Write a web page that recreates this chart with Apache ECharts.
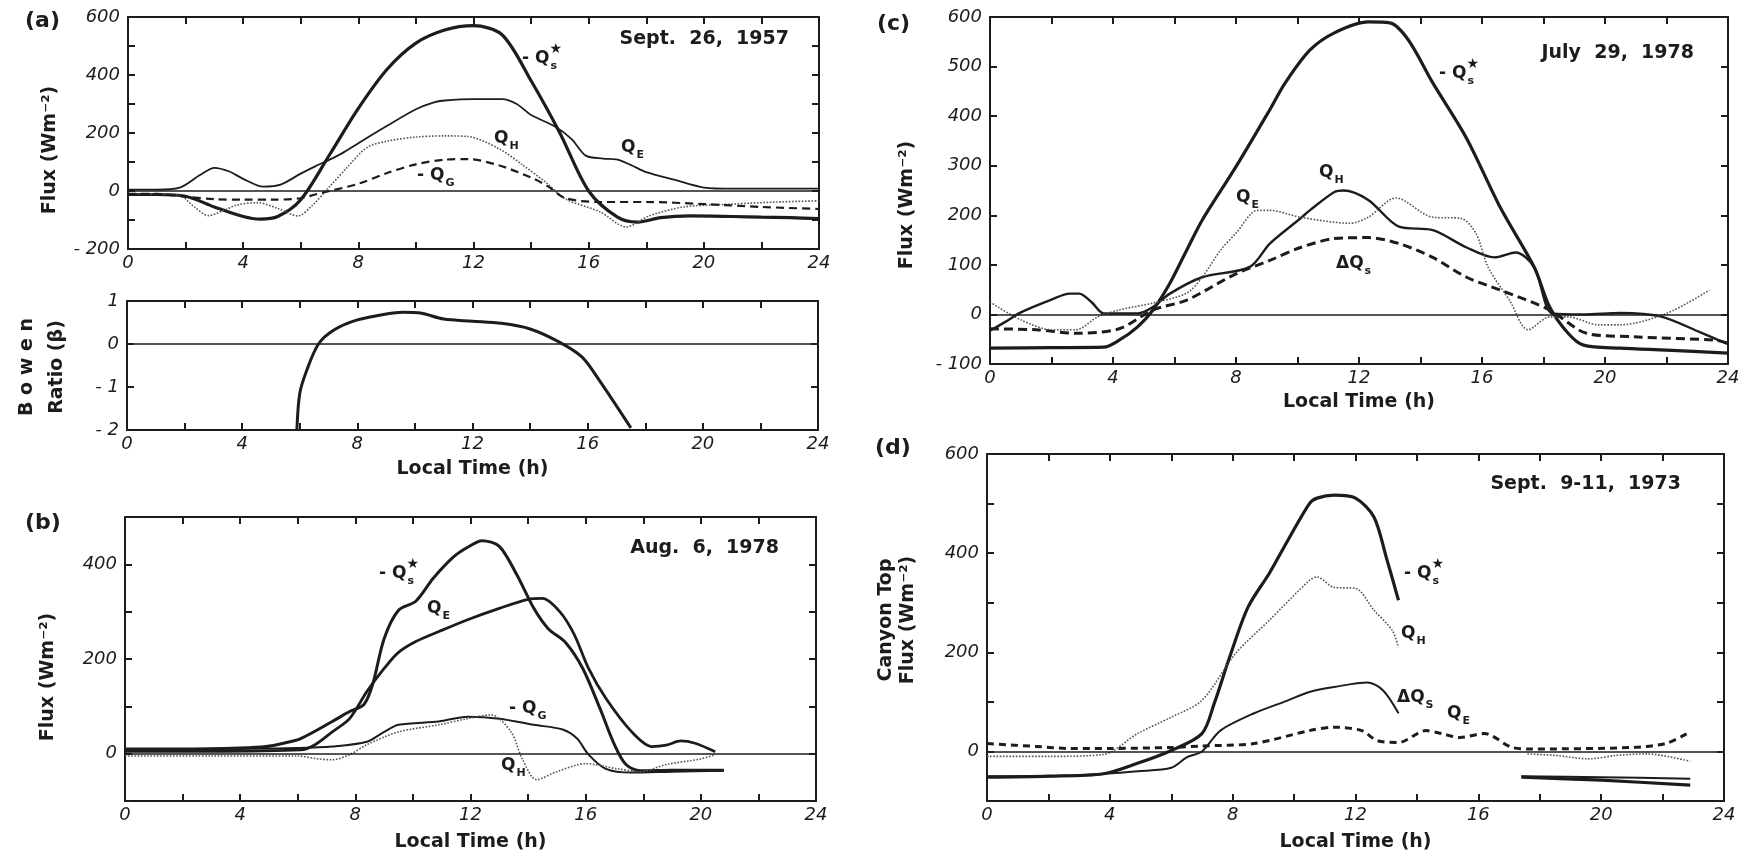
<!DOCTYPE html>
<html>
<head>
<meta charset="utf-8">
<script src="https://cdn.jsdelivr.net/npm/echarts@6/dist/echarts.min.js"></script>
<style>
  html, body { margin: 0; padding: 0; background: #fff; }
  #chart { width: 1747px; height: 859px; }
</style>
</head>
<body>
<div id="chart"></div>
<script>
// ---- data: [local time (h), value] ----
// (a) Sept. 26, 1957
const aQstar = [[0,-12],[1,-12],[2,-18],[3,-55],[4,-88],[4.6,-97],[5.2,-88],[6,-30],[7,125],[8,285],[9,420],[10,510],[11,555],[12,570],[13,538],[14,380],[15,200],[16,0],[17,-90],[17.7,-107],[18.5,-92],[19.5,-86],[21,-88],[22,-90],[23,-92],[24,-95]];
const aQE = [[0,5],[1,5],[1.8,12],[2.5,55],[3,80],[3.5,68],[4,42],[4.7,15],[5.3,22],[6,60],[6.5,85],[7,108],[7.5,134],[8,165],[9,225],[10,282],[10.6,305],[11,312],[12,317],[13,317],[13.5,300],[14,262],[14.8,224],[15.4,180],[15.9,122],[16.5,112],[17,108],[17.5,88],[18,65],[19,38],[20,12],[21,8],[22,8],[23,8],[24,8]];
const aQH = [[0,-10],[1,-10],[1.8,-15],[2.3,-55],[2.8,-85],[3.3,-68],[3.8,-48],[4.5,-40],[5.2,-60],[5.9,-86],[6.4,-50],[7,15],[7.6,80],[8.3,150],[9,172],[10,186],[11,190],[11.8,188],[12.9,145],[13.7,90],[14.5,31],[15.2,-28],[16.4,-72],[17.3,-124],[18.1,-86],[19.3,-55],[21,-45],[22.5,-38],[24,-34]];
const aQG = [[0,-10],[1,-10],[2,-20],[3,-28],[4,-30],[5,-30],[6,-25],[6.5,-12],[7,0],[8,25],[9,62],[10,92],[11,108],[11.8,110],[12.9,88],[14.1,42],[14.6,15],[15.2,-25],[16.4,-38],[18,-38],[20,-45],[22,-55],[24,-62]];
const aBowen = [[5.9,-2],[6,-1.15],[6.25,-0.6],[6.65,0],[7.2,0.33],[8,0.56],[9,0.7],[9.6,0.74],[10.2,0.72],[11,0.58],[12,0.53],[13,0.48],[14,0.35],[15,0.05],[15.8,-0.3],[16.4,-0.84],[17.5,-1.95]];
// (b) Aug. 6, 1978
const bQstar = [[0,10],[2,10],[4,12],[4.9,15],[5.5,22],[6.1,32],[7.2,68],[7.8,89],[8.3,104],[8.6,146],[9,243],[9.5,303],[10.1,322],[10.7,370],[11.4,415],[11.9,436],[12.4,450],[13,438],[13.6,379],[14.2,307],[14.7,264],[15.3,235],[15.9,180],[16.5,95],[17,19],[17.4,-23],[17.9,-36],[19,-35],[20.8,-35]];
const bQE = [[0,5],[3,5],[6.1,8],[6.6,19],[7.2,46],[7.8,74],[8.4,131],[9,180],[9.5,214],[10.1,237],[10.9,258],[11.9,283],[13,307],[14,326],[14.5,328],[15.1,300],[15.6,252],[16.1,180],[16.7,117],[17.6,46],[18.3,15],[18.8,18],[19.3,27],[19.8,22],[20.5,4]];
const bQG = [[0,10],[3,10],[6,12],[7.2,15],[8.4,25],[9,46],[9.5,61],[10.9,68],[11.9,78],[13,74],[14.2,61],[15.2,51],[15.7,32],[16.1,-2],[16.7,-32],[17.6,-40],[19,-38],[20.8,-36]];
const bQH = [[0,-5],[3,-5],[6,-5],[6.7,-11],[7.2,-13],[7.8,-2],[8.4,19],[9.5,46],[10.9,61],[11.9,74],[12.7,82],[13.4,47],[13.8,-11],[14.3,-55],[15,-38],[16,-21],[17.1,-32],[17.9,-38],[18.8,-23],[20,-11],[20.5,-2]];
// (c) July 29, 1978
const cQstar = [[0,-68],[2,-67],[3.7,-66],[4.2,-52],[4.8,-25],[5.3,9],[5.85,63],[6.4,130],[6.9,190],[8,298],[9.1,413],[9.6,467],[10.4,533],[11.2,568],[12.3,590],[13,588],[13.6,554],[14.4,467],[15.5,355],[16.6,215],[17.7,95],[18.2,15],[18.8,-38],[19.3,-62],[20.5,-68],[22,-72],[24,-78]];
const cQH = [[0,-33],[0.5,-15],[1,4],[2,30],[2.6,42],[2.9,42],[3.3,25],[3.7,2],[4.8,2],[5.3,15],[5.85,42],[6.9,75],[8.45,96],[9.1,143],[10.1,194],[10.4,210],[11.2,247],[11.5,250],[12.3,231],[13.3,177],[14.4,170],[15.5,135],[16.4,115],[17.1,125],[17.7,95],[18.3,2],[19.3,0],[20.5,3],[21.8,-4],[23.1,-36],[24,-60]];
const cQE = [[0,25],[1,-11],[2,-31],[2.8,-31],[3.5,-5],[4.2,9],[5.3,23],[6.4,43],[6.9,75],[7.5,130],[8,164],[8.7,210],[9.1,210],[10.1,196],[11.7,184],[12.3,196],[13.2,235],[14.4,196],[15.3,194],[15.8,164],[16.2,95],[16.9,28],[17.5,-31],[18.2,-5],[18.8,-5],[19.8,-21],[20.5,-21],[22,2],[23.4,49]];
const cDQs = [[0,-29],[1.5,-31],[2.8,-38],[4.2,-29],[5.3,9],[6.4,29],[8,82],[9.1,109],[10.1,135],[11.2,153],[12.3,155],[13.3,143],[14.4,115],[15.5,75],[16.6,49],[18.2,9],[19.4,-38],[20.9,-45],[23.6,-52],[24,-58]];
// (d) Sept. 9-11, 1973 (gap in the record between 13.4 h and 17.4 h)
const dQstar = [[0,-52],[2,-50],[3.8,-45],[4.9,-24],[6,2],[7,36],[7.4,97],[7.9,190],[8.5,291],[9.2,360],[9.8,426],[10.5,500],[10.75,511],[11.3,517],[12,511],[12.6,473],[13,392],[13.4,305],[15.5,'-'],[17.4,-52],[20,-58],[22.9,-68]];
const dQH = [[0,-10],[2,-10],[3.8,-6],[4.9,36],[6,69],[7,103],[8.1,198],[9.2,265],[10.5,345],[10.75,352],[11.3,331],[12,329],[12.6,285],[13.2,244],[13.4,210],[15.5,'-'],[17.6,-5],[18.5,-8],[19.6,-15],[20.5,-8],[21.5,-5],[22.9,-20]];
const dDQs = [[0,-50],[2,-50],[3.8,-45],[4.9,-40],[6,-33],[6.5,-12],[7,0],[7.6,42],[8.7,77],[9.8,103],[10.5,120],[11.3,130],[12.4,139],[12.9,123],[13.4,77],[15.5,'-'],[17.4,-50],[20,-52],[22.9,-55]];
const dQE = [[0,16],[1.6,10],[2.7,6],[4,6],[6,8],[7,11],[8.7,16],[10.5,42],[11.3,49],[12.2,42],[12.7,22],[13.4,18],[14.3,42],[14.8,36],[15.4,28],[16.2,36],[17.1,8],[17.7,5],[21,8],[22.1,16],[22.8,36]];

// y ranges: [min, max, tick step, label step]
const yRanges = [[-200, 600, 100, 200], [-2, 1, 1, 1], [-100, 500, 100, 200], [-100, 600, 100, 100], [-100, 600, 100, 200]];
const dates = ['Sept.  26,  1957', 'Aug.  6,  1978', 'July  29,  1978', 'Sept.  9-11,  1973'];

const INK = '#1c1c1c';
const FONT = '"DejaVu Sans", sans-serif';

const chart = echarts.init(document.getElementById('chart'));

// grids: (a) flux, (a) Bowen ratio, (b), (c), (d)
const grids = [
  { left: 128, top: 17, width: 691, height: 232 },
  { left: 127, top: 301, width: 691, height: 129 },
  { left: 125, top: 517, width: 691, height: 284 },
  { left: 990, top: 17, width: 738, height: 347 },
  { left: 987, top: 454, width: 737, height: 347 }
];
const xNameGap = [0, 30, 32, 29, 32];

const neg = v => (v < 0 ? '- ' + (-v) : '' + v);

const xAxis = [];
const yAxis = [];
grids.forEach((g, i) => {
  const [mn, mx, step, lab] = yRanges[i];
  const line = { show: true, onZero: false, lineStyle: { color: INK, width: 2 } };
  const tick = { show: true, inside: true, length: 7, lineStyle: { color: INK, width: 2 } };
  xAxis.push({
    type: 'value', gridIndex: i, min: 0, max: 24, interval: 2, position: 'bottom',
    axisLine: line, axisTick: tick, splitLine: { show: false },
    axisLabel: {
      formatter: v => (v % 4 === 0 ? '' + v : ''),
      fontFamily: FONT, fontStyle: 'italic', fontSize: 18, color: INK, margin: 5
    },
    name: i === 0 ? '' : 'Local Time (h)', nameLocation: 'middle', nameGap: xNameGap[i],
    nameTextStyle: { fontFamily: FONT, fontWeight: 'bold', fontSize: 19, color: INK }
  });
  xAxis.push({
    type: 'value', gridIndex: i, min: 0, max: 24, interval: 2, position: 'top',
    axisLine: line, axisTick: tick, axisLabel: { show: false }, splitLine: { show: false }
  });
  yAxis.push({
    type: 'value', gridIndex: i, min: mn, max: mx, interval: step, position: 'left',
    axisLine: line, axisTick: tick, splitLine: { show: false },
    axisLabel: {
      formatter: v => (Math.round(v) % lab === 0 ? neg(v) : ''),
      fontFamily: FONT, fontStyle: 'italic', fontSize: 18, color: INK, margin: 8
    }
  });
  yAxis.push({
    type: 'value', gridIndex: i, min: mn, max: mx, interval: step, position: 'right',
    axisLine: line, axisTick: tick, axisLabel: { show: false }, splitLine: { show: false }
  });
});

function ser(g, data, width, type, color, zero) {
  const s = {
    type: 'line', xAxisIndex: 2 * g, yAxisIndex: 2 * g, data: data,
    symbol: 'none', showSymbol: false, smooth: 0.3,
    lineStyle: { color: color || INK, width: width, type: type || 'solid' },
    silent: true
  };
  if (zero) {
    s.markLine = {
      silent: true, symbol: 'none', label: { show: false },
      lineStyle: { color: INK, width: 1.6, type: 'solid' },
      data: [{ yAxis: 0 }]
    };
  }
  return s;
}

const series = [
  ser(0, aQstar, 3.2, 'solid', INK, true),
  ser(0, aQE, 1.8),
  ser(0, aQH, 1.6, 'dotted', '#555'),
  ser(0, aQG, 2.2, [8, 5]),
  ser(1, aBowen, 3, 'solid', INK, true),
  ser(2, bQstar, 3, 'solid', INK, true),
  ser(2, bQE, 2.8),
  ser(2, bQG, 2),
  ser(2, bQH, 1.6, 'dotted', '#555'),
  ser(3, cQstar, 3.2, 'solid', INK, true),
  ser(3, cQH, 2.4),
  ser(3, cQE, 1.6, 'dotted', '#555'),
  ser(3, cDQs, 3, [9, 5]),
  ser(4, dQstar, 3.2, 'solid', INK, true),
  ser(4, dQH, 1.6, 'dotted', '#555'),
  ser(4, dDQs, 2),
  ser(4, dQE, 3, [7, 5])
];

// ---- annotations ----
const ctx = document.createElement('canvas').getContext('2d');
function textW(s, font) { ctx.font = font; return ctx.measureText(s).width; }
const TAGF = 'bold 17px ' + FONT;

function tag(x, y, base, sub, star) {
  const w = textW(base, TAGF);
  const kids = [
    { type: 'text', x: 0, y: 0, style: { text: base, font: TAGF, fill: INK, verticalAlign: 'top' } },
    { type: 'text', x: w + 1, y: 11, style: { text: sub, font: 'bold 11px ' + FONT, fill: INK, verticalAlign: 'top' } }
  ];
  if (star) {
    kids.push({ type: 'text', x: w, y: -8, style: { text: '★', font: '14px ' + FONT, fill: INK, verticalAlign: 'top' } });
  }
  return { type: 'group', x: x, y: y, children: kids };
}
function txt(x, y, s, font, align) {
  return { type: 'text', x: x, y: y, style: { text: s, font: font, fill: INK, align: align || 'left', verticalAlign: 'top' } };
}
function vtxt(x, y, s) {
  return {
    type: 'text', x: x, y: y, rotation: Math.PI / 2,
    style: { text: s, font: 'bold 19px ' + FONT, fill: INK, align: 'center', verticalAlign: 'middle' }
  };
}

const PANEL = 'bold 22px ' + FONT;
const DATE = 'bold 19px ' + FONT;
const graphic = [
  txt(25, 10, '(a)', PANEL), txt(25, 512, '(b)', PANEL),
  txt(877, 13, '(c)', PANEL), txt(875, 437, '(d)', PANEL),
  txt(789, 30, dates[0], DATE, 'right'), txt(779, 539, dates[1], DATE, 'right'),
  txt(1694, 44, dates[2], DATE, 'right'), txt(1681, 475, dates[3], DATE, 'right'),
  vtxt(50, 150, 'Flux (Wm⁻²)'),
  vtxt(27, 367, 'B o w e n'), vtxt(57, 367, 'Ratio (β)'),
  vtxt(48, 677, 'Flux (Wm⁻²)'),
  vtxt(907, 205, 'Flux (Wm⁻²)'),
  vtxt(886, 620, 'Canyon Top'), vtxt(908, 620, 'Flux (Wm⁻²)'),
  // (a)
  tag(522, 50, '- Q', 's', true), tag(494, 130, 'Q', 'H'), tag(621, 139, 'Q', 'E'), tag(417, 167, '- Q', 'G'),
  // (b)
  tag(379, 565, '- Q', 's', true), tag(427, 600, 'Q', 'E'), tag(509, 700, '- Q', 'G'), tag(501, 757, 'Q', 'H'),
  // (c)
  tag(1439, 65, '- Q', 's', true), tag(1236, 189, 'Q', 'E'), tag(1319, 164, 'Q', 'H'), tag(1336, 255, 'ΔQ', 's'),
  // (d)
  tag(1404, 565, '- Q', 's', true), tag(1401, 625, 'Q', 'H'), tag(1397, 689, 'ΔQ', 'S'), tag(1447, 705, 'Q', 'E')
];

chart.setOption({
  animation: false,
  backgroundColor: '#fff',
  grid: grids,
  xAxis: xAxis,
  yAxis: yAxis,
  series: series,
  graphic: graphic
});
</script>
</body>
</html>
